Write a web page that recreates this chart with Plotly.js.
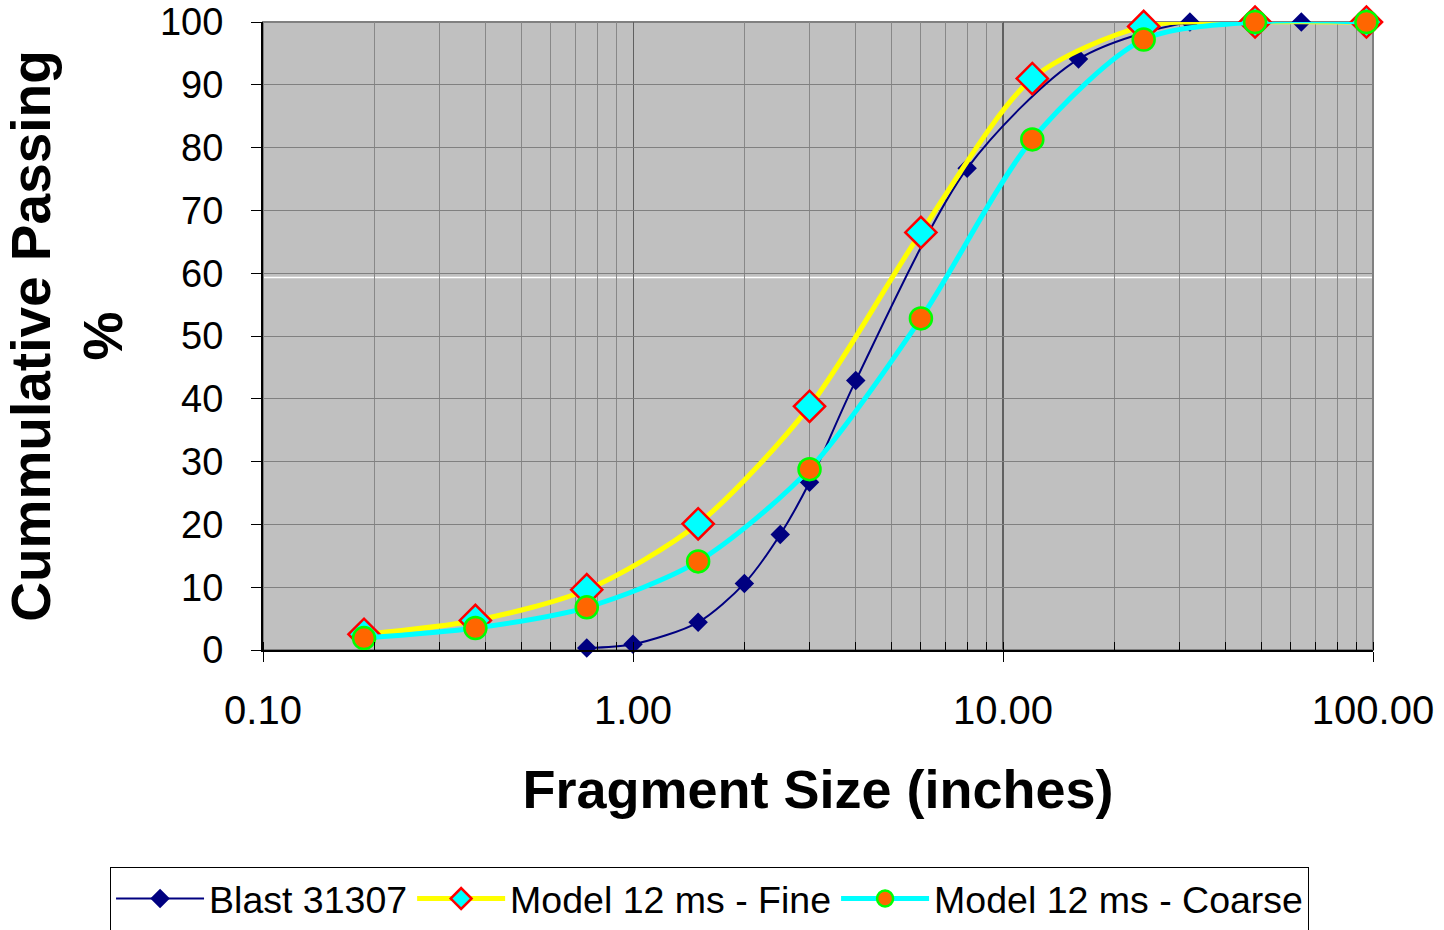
<!DOCTYPE html>
<html>
<head>
<meta charset="utf-8">
<script src="https://cdn.plot.ly/plotly-3.0.1.min.js"></script>
<style>html,body{margin:0;padding:0;background:#fff;}#chart{width:1444px;height:930px;}</style>
</head>
<body>
<div id="chart"></div>
<script>
// ---- data ----
const blastSizes = [0.75, 1, 1.5, 2, 2.5, 3, 4, 8, 16, 32, 64];
const blastPassing = [0.3, 0.9, 4.4, 10.6, 18.4, 26.7, 42.9, 76.7, 94.1, 100, 100];

const modelSizes = [0.1875, 0.375, 0.75, 1.5, 3, 6, 12, 24, 48, 96];
const finePassing = [2.5, 4.7, 9.6, 20.1, 38.8, 66.5, 91.0, 99.3, 100, 100];
const coarsePassing = [1.9, 3.5, 6.8, 14.1, 28.8, 52.8, 81.3, 97.2, 100, 100];

const seriesNames = ['Blast 31307', 'Model 12 ms - Fine', 'Model 12 ms - Coarse'];

const xTickVals = [0.1, 1, 10, 100];
const xTickText = ['0.10', '1.00', '10.00', '100.00'];
const yTickVals = [0, 10, 20, 30, 40, 50, 60, 70, 80, 90, 100];

const FONT = '"Liberation Sans", Arial, Helvetica, sans-serif';

const traces = [
  {
    x: blastSizes, y: blastPassing, name: seriesNames[0],
    type: 'scatter', mode: 'lines+markers', cliponaxis: false,
    line: {color: '#000080', width: 2, shape: 'spline', smoothing: 0.8},
    marker: {symbol: 'diamond', size: 15, color: '#000080', line: {width: 0}}
  },
  {
    x: modelSizes, y: finePassing, name: seriesNames[1],
    type: 'scatter', mode: 'lines+markers', cliponaxis: false,
    line: {color: '#FFFF00', width: 5, shape: 'spline', smoothing: 0.8},
    marker: {symbol: 'diamond', size: 24, color: '#00FFFF', line: {color: '#FF0000', width: 2.5}}
  },
  {
    x: modelSizes, y: coarsePassing, name: seriesNames[2],
    type: 'scatter', mode: 'lines+markers', cliponaxis: false,
    line: {color: '#00FFFF', width: 5, shape: 'spline', smoothing: 0.8},
    marker: {symbol: 'circle', size: 22, color: '#FF6600', line: {color: '#00FF00', width: 2.5}}
  }
];

const layout = {
  width: 1444, height: 930,
  margin: {l: 263, r: 71, t: 22, b: 280, autoexpand: false},
  paper_bgcolor: '#FFFFFF',
  plot_bgcolor: '#C0C0C0',
  font: {family: FONT, color: '#000000', size: 37},
  showlegend: true,
  legend: {
    orientation: 'h',
    x: -0.1378, xanchor: 'left',
    y: -0.345, yanchor: 'top',
    bgcolor: '#FFFFFF', bordercolor: '#000000', borderwidth: 1,
    font: {family: FONT, size: 37.5, color: '#000000'},
    itemwidth: 88,
    traceorder: 'normal'
  },
  xaxis: {
    type: 'log',
    range: [-1, 2],
    tickvals: xTickVals, ticktext: xTickText,
    ticks: 'outside', ticklen: 10, tickwidth: 1, tickcolor: '#000000',
    tickfont: {family: FONT, size: 40, color: '#000000'},
    ticklabelstandoff: 14,
    ticklabeloverflow: 'allow',
    showgrid: true, gridcolor: '#606060', gridwidth: 1,
    showline: true, linecolor: '#000000', linewidth: 2,
    zeroline: false,
    minor: {dtick: 'D1', showgrid: true, gridcolor: '#888888', gridwidth: 1, ticks: 'inside', ticklen: 8, tickcolor: '#000000'},
    title: {text: 'Fragment Size (inches)', font: {family: FONT, size: 54, color: '#000000', weight: 'bold'}, standoff: 39},
    automargin: false
  },
  yaxis: {
    range: [0, 100.0001],
    tickvals: yTickVals,
    ticks: 'outside', ticklen: 10, tickwidth: 1, tickcolor: '#000000',
    tickfont: {family: FONT, size: 38, color: '#000000'},
    ticklabelstandoff: 20,
    ticklabeloverflow: 'allow',
    showgrid: true, gridcolor: '#808080', gridwidth: 1,
    showline: true, linecolor: '#000000', linewidth: 2,
    zeroline: false,
    title: {text: 'Cummulative Passing<br>%', font: {family: FONT, size: 55, color: '#000000', weight: 'bold'}, standoff: 44},
    automargin: false
  },
  shapes: [
    {type: 'line', xref: 'x', yref: 'paper', x0: 10, x1: 10, y0: 0, y1: 1, line: {color: '#000000', width: 1}, layer: 'below'},
    {type: 'line', xref: 'paper', yref: 'y', x0: 0, x1: 1, y0: 59.3, y1: 59.3, line: {color: '#FFFFFF', width: 1.5}, layer: 'below'},
    {type: 'rect', xref: 'paper', yref: 'paper', x0: 0, x1: 1, y0: 0, y1: 1, line: {color: '#808080', width: 2}, fillcolor: 'rgba(0,0,0,0)', layer: 'below'}
  ]
};

Plotly.newPlot('chart', traces, layout, {displayModeBar: false, staticPlot: true});
</script>
</body>
</html>
